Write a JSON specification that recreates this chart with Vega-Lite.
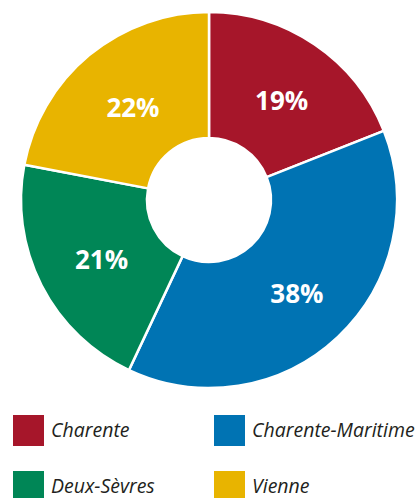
{
  "$schema": "https://vega.github.io/schema/vega-lite/v6.json",
  "autosize": {"type": "none"},
  "padding": {"left": 3, "top": 0, "right": 0, "bottom": 98},
  "width": 412,
  "height": 400,
  "background": "white",
  "config": {"view": {"stroke": null}},
  "data": {
    "values": [
      {"dept": "Charente", "share": 0.19},
      {"dept": "Charente-Maritime", "share": 0.38},
      {"dept": "Deux-Sèvres", "share": 0.21},
      {"dept": "Vienne", "share": 0.22}
    ]
  },
  "encoding": {
    "theta": {"field": "share", "type": "quantitative", "stack": true},
    "order": {"field": "dept", "sort": "ascending"},
    "color": {
      "field": "dept",
      "type": "nominal",
      "scale": {
        "domain": ["Charente", "Charente-Maritime", "Deux-Sèvres", "Vienne"],
        "range": ["#A6162A", "#0073B3", "#008656", "#E8B400"]
      },
      "legend": {
        "title": null,
        "orient": "none",
        "legendX": 10,
        "legendY": 415,
        "direction": "horizontal",
        "columns": 2,
        "gridAlign": "all",
        "columnPadding": -3,
        "rowPadding": 25,
        "symbolType": "square",
        "symbolSize": 961,
        "symbolStrokeWidth": 0,
        "symbolOpacity": 1,
        "labelOffset": 7,
        "labelFont": "Open Sans",
        "labelFontStyle": "italic",
        "labelFontSize": 19.5,
        "labelColor": "#231F20",
        "labelLimit": 300
      }
    }
  },
  "layer": [
    {
      "mark": {"type": "arc", "innerRadius": 62, "outerRadius": 188, "stroke": "white", "strokeWidth": 2.5}
    },
    {
      "mark": {"type": "text", "radius": 124, "font": "Open Sans", "fontWeight": "bold", "fontSize": 26, "fill": "white", "baseline": "alphabetic", "dx": 3, "dy": 13, "align": "center"},
      "encoding": {
        "text": {"field": "share", "type": "quantitative", "format": ".0%"},
        "color": {"value": "white"}
      }
    }
  ]
}
